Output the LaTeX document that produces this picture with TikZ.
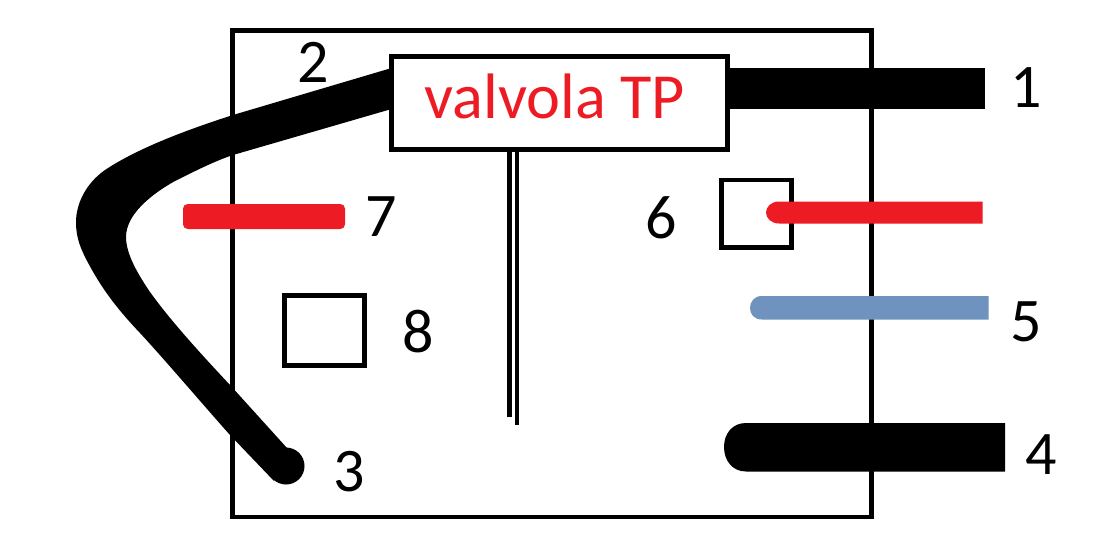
\documentclass[tikz,border=0pt]{standalone}
\usepackage{fontspec}
\setmainfont{Carlito}
\definecolor{vred}{HTML}{ED1C24}
\definecolor{vblue}{HTML}{7092BE}
\tikzset{
  box/.style={draw=black,line width=3.3pt,fill=white,inner sep=0pt,outer sep=0pt,anchor=north west},
  num/.style={font=\fontsize{46.5}{46.5}\selectfont,text=black,inner sep=0pt}
}
\begin{document}
\begin{tikzpicture}[x=0.75pt,y=-0.75pt]
\useasboundingbox (0,0) rectangle (1106,556);
\fill[white] (0,0) rectangle (1106,556);
\node[box,minimum width=639*0.75pt,minimum height=486.5*0.75pt] (frame) at (232.5,30.5) {};
% tube 1
\fill[black] (725,68.5) rectangle (985,109.5);
% tube 2-3
\fill[black] (395,67) -- (233,115)
  .. controls (180,132) and (135,150) .. (105,170)
  .. controls (85,184) and (76,205) .. (76,222)
  .. controls (76,240) and (82,252) .. (92,270)
  .. controls (105,293) and (120,312) .. (140,333)
  .. controls (165,360) and (205,407) .. (230,435)
  -- (274,481) -- (287,448) -- (230,385)
  .. controls (200,353) and (170,320) .. (150,292)
  .. controls (135,270) and (126,252) .. (126,237)
  .. controls (126,215) and (150,195) .. (175,181)
  .. controls (195,171) and (215,161) .. (233,155)
  -- (395,108) -- cycle;
\fill[black] (286,466) circle (18.5);
% valve
\node[box,minimum width=336*0.75pt,minimum height=93*0.75pt] (valve) at (391.5,56.5) {};
\node[font=\fontsize{48.2}{48.2}\selectfont,text=vred,inner sep=0pt] (vt) at (555,96.5) {valvola TP};
% capillary
\coordinate (c1) at (509.6,417);
\coordinate (c2) at (517.2,424.5);
\draw[line width=3.2pt] (509.6,150) -- (c1);
\draw[line width=3.2pt] (517.2,150) -- (c2);
% 7
\fill[vred,rounded corners=3.5pt] (183,204) rectangle (345,229);
% 8
\node[box,minimum width=80*0.75pt,minimum height=70*0.75pt] (b8) at (284.3,295.5) {};
% 6
\node[box,minimum width=70*0.75pt,minimum height=67.3*0.75pt] (b6) at (721.6,180.3) {};
\fill[vred] (982.5,201.5) -- (982.5,223.5) -- (779,223.5) .. controls (771,223.5) and (766,218) .. (766,212.5) .. controls (766,207) and (771,201.5) .. (779,201.5) -- cycle;
% 5
\fill[vblue] (988.5,296) -- (988.5,319.5) -- (762,319.5) .. controls (754,319.5) and (750,314) .. (750,308) .. controls (750,302) and (754,296) .. (762,296) -- cycle;
% 4
\fill[black] (1005,423) -- (1005,471.5) -- (746,471.5) .. controls (732,471.5) and (724,460) .. (724,447) .. controls (724,434) and (732,423) .. (746,423) -- cycle;
% labels
\node[num] (n1) at (1026,88) {1};
\node[num] (n2) at (313,62) {2};
\node[num] (n3) at (349,472) {3};
\node[num] (n4) at (1041,455) {4};
\node[num] (n5) at (1026,322) {5};
\node[num] (n6) at (661,218) {6};
\node[num] (n7) at (381,217) {7};
\node[num] (n8) at (418,332) {8};
\end{tikzpicture}
\end{document}
